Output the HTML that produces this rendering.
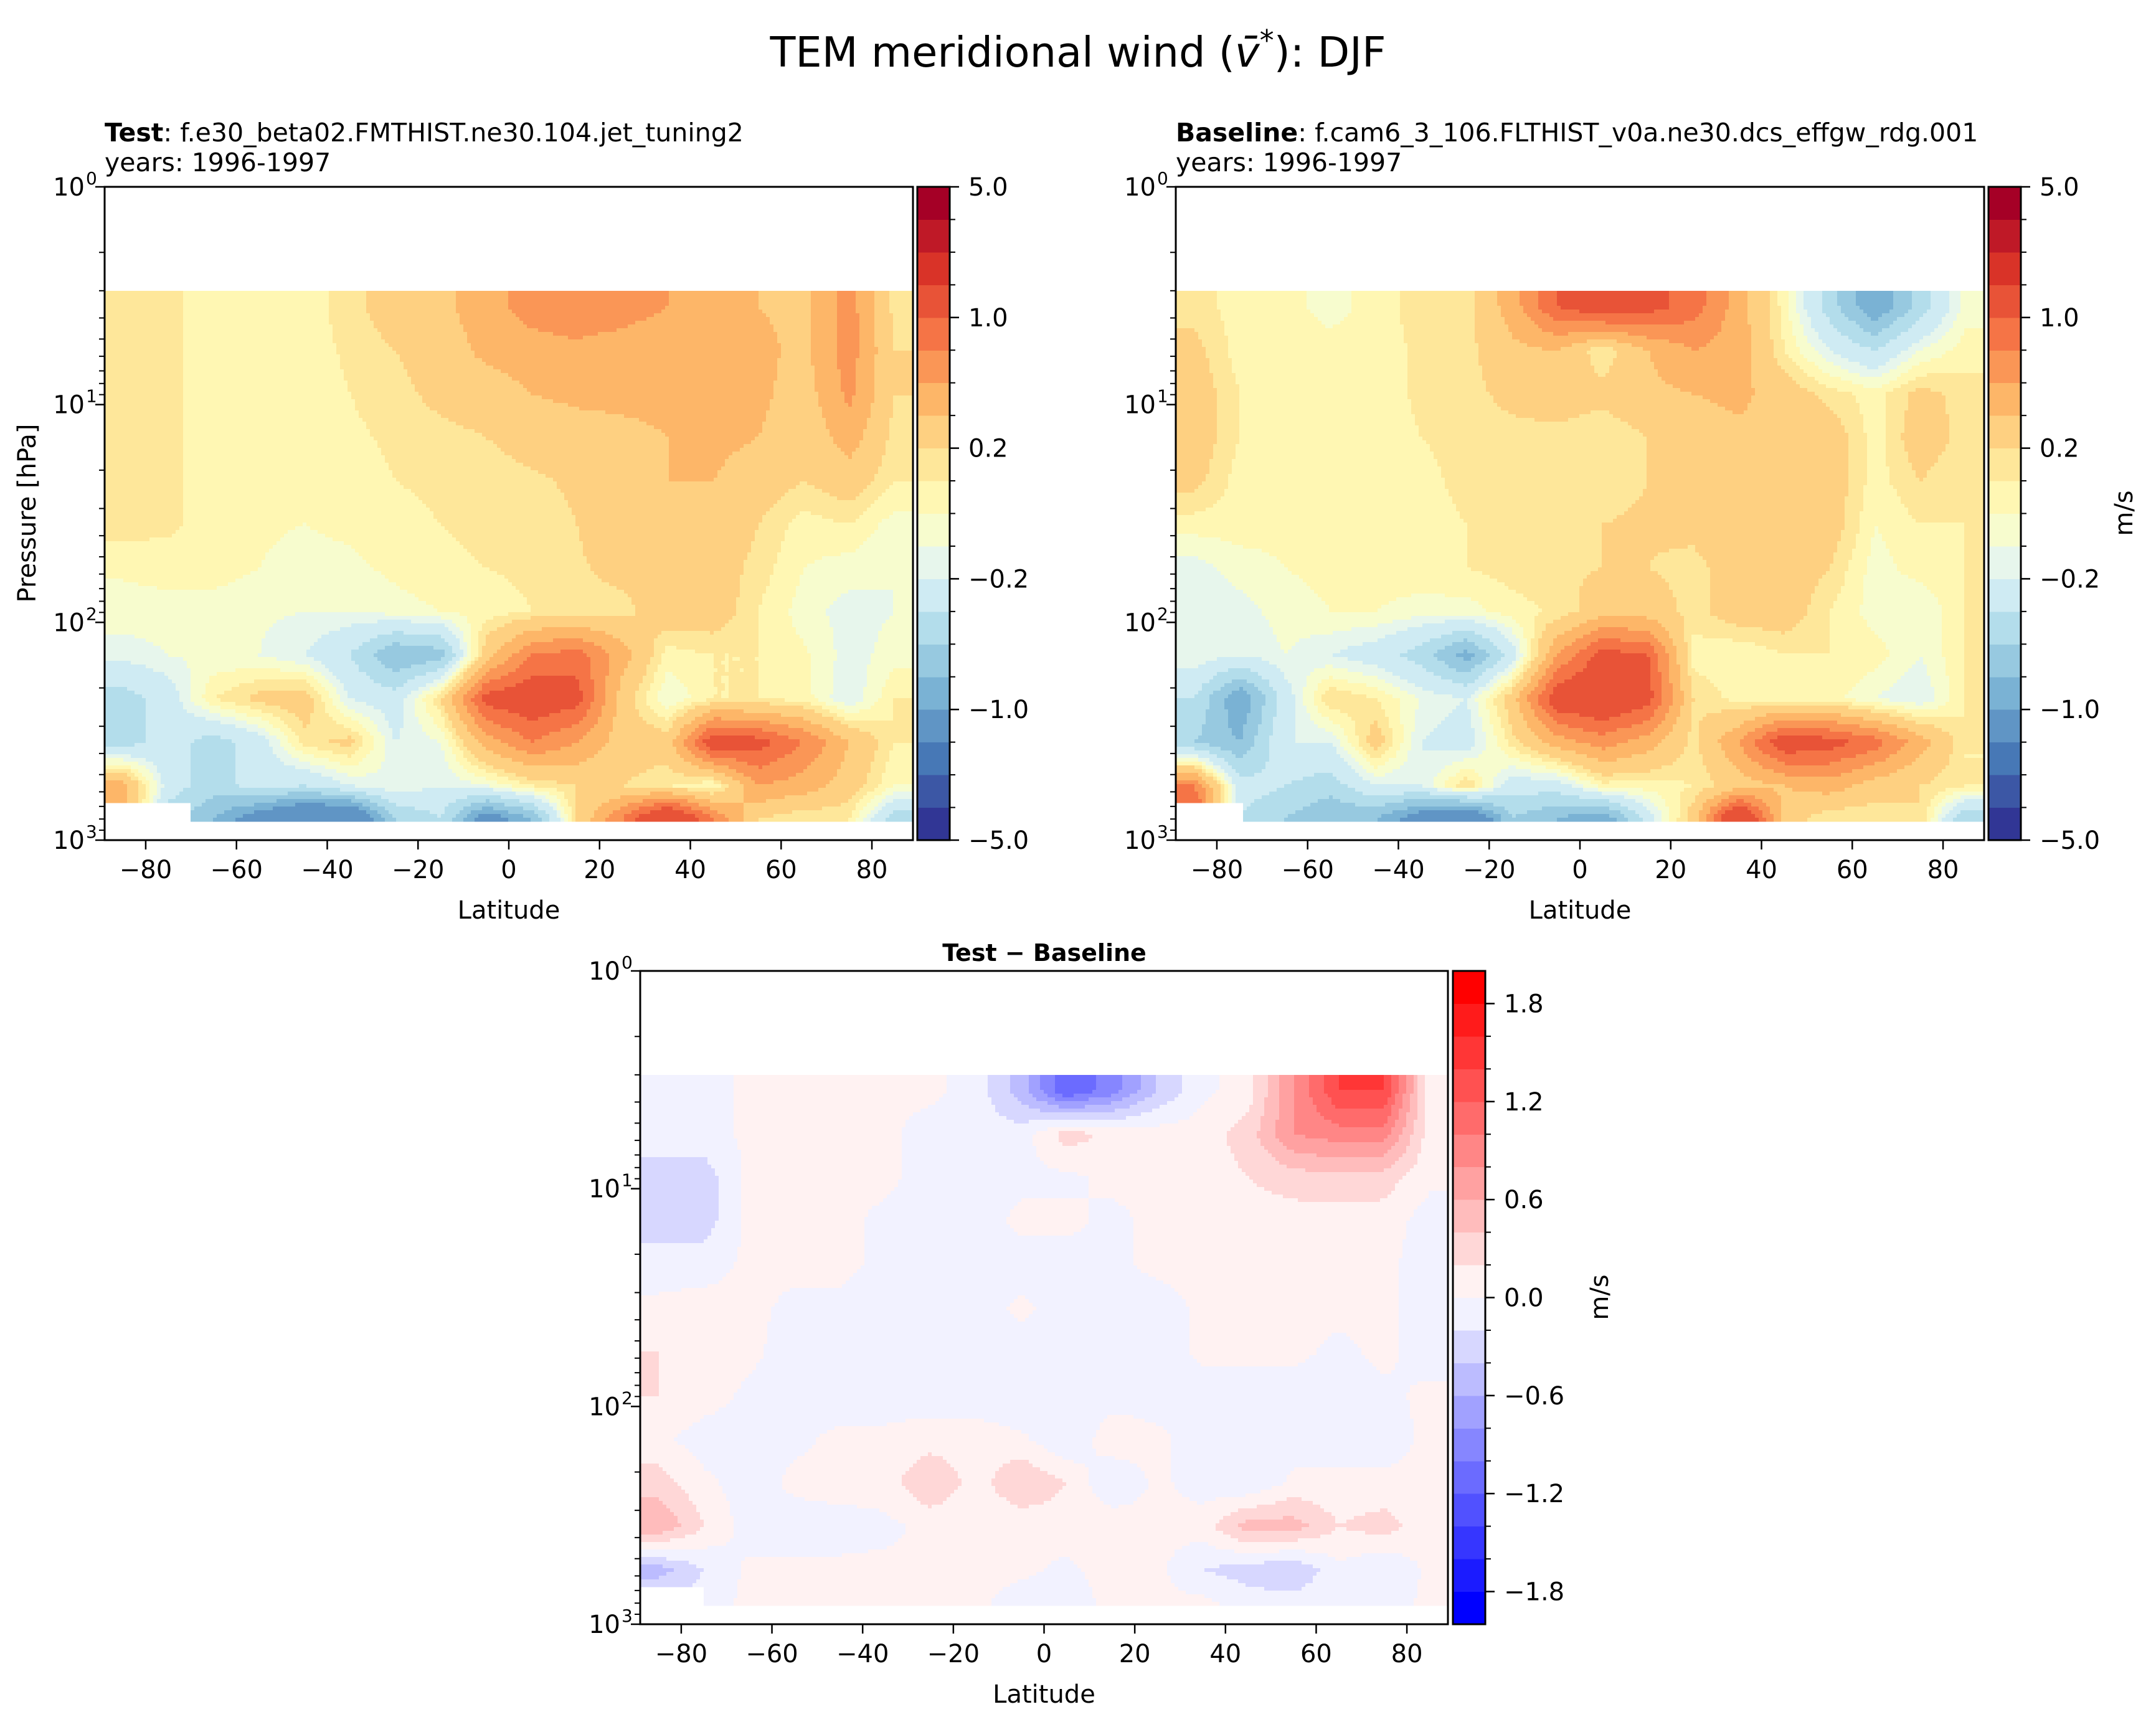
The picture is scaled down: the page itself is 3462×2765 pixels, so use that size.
<!DOCTYPE html>
<html><head><meta charset="utf-8"><title>TEM meridional wind DJF</title>
<style>
html,body{margin:0;padding:0;background:#fff;}
svg{display:block;font-family:"DejaVu Sans","Liberation Sans",sans-serif;}
</style></head>
<body>
<svg id="fig" xmlns="http://www.w3.org/2000/svg" width="3462" height="2765" viewBox="0 0 3462 2765">
<rect x="0" y="0" width="3462" height="2765" fill="#fff"/>
<text x="1731" y="107" font-size="67" text-anchor="middle">TEM meridional wind (<tspan font-style="italic">v̄</tspan><tspan font-size="46" dy="-26">*</tspan><tspan dy="26">): DJF</tspan></text>
<text x="168" y="227" font-size="41"><tspan font-weight="bold">Test</tspan>: f.e30_beta02.FMTHIST.ne30.104.jet_tuning2</text>
<text x="168" y="275" font-size="41">years: 1996-1997</text>
<text x="1888" y="227" font-size="41"><tspan font-weight="bold">Baseline</tspan>: f.cam6_3_106.FLTHIST_v0a.ne30.dcs_effgw_rdg.001</text>
<text x="1888" y="275" font-size="41">years: 1996-1997</text>
<text x="1677" y="1543" font-size="38" font-weight="bold" text-anchor="middle">Test − Baseline</text>
<text x="0" y="0" font-size="40" text-anchor="middle" transform="translate(57,824) rotate(-90)">Pressure [hPa]</text>
<text x="0" y="0" font-size="40" text-anchor="middle" transform="translate(3424,824) rotate(-90)">m/s</text>
<text x="0" y="0" font-size="40" text-anchor="middle" transform="translate(2582,2083) rotate(-90)">m/s</text>
<g id="layer"></g>
</svg>
<script>
// ---- data grids (rows = log10 pressure, columns = latitude) ----
const lats = [-85,-75,-65,-55,-45,-35,-25,-15,-5,5,15,25,35,45,55,65,75,85];
const logP = [0.55,0.75,0.95,1.15,1.35,1.55,1.75,1.95,2.15,2.35,2.55,2.75,2.9];
const testVals = [
[.15,.12,.05,.05,.05,.15,.3,.35,.5,.7,.75,.7,.6,.45,.4,.35,.7,.15],
[.15,.12,.05,.05,.05,.12,.2,.3,.45,.5,.55,.5,.45,.45,.45,.35,.7,.2],
[.15,.12,.05,.05,.05,.1,.15,.25,.3,.4,.45,.45,.45,.45,.45,.3,.65,.2],
[.15,.12,.05,.05,.05,.08,.12,.15,.2,.25,.3,.35,.4,.45,.4,.25,.5,.15],
[.15,.12,.05,.03,.03,.05,.1,.12,.15,.18,.22,.3,.4,.4,.3,.2,.3,.1],
[.15,.12,.05,.02,0,.03,.07,.1,.12,.15,.2,.3,.35,.35,.2,.05,.1,-.05],
[.02,.05,.05,0,-.05,-.03,.03,.08,.1,.12,.18,.25,.3,.3,.15,0,-.05,-.1],
[-.05,-.05,-.05,-.08,-.1,-.1,-.05,0,.05,.1,.15,.15,.3,.3,.1,-.05,-.15,-.1],
[-.15,-.1,-.08,-.1,-.2,-.4,-.8,-.7,.3,.8,.9,.5,.05,.1,.1,.02,-.15,-.05],
[-.5,-.3,.1,.25,.3,-.2,-.3,.2,1.1,1.2,1.1,.3,-.1,.1,.1,.05,-.2,.1],
[-.5,-.3,-.5,-.3,.15,.25,-.2,-.1,.5,.8,.6,.3,.3,1.2,1.1,.8,.4,.1],
[.5,-.3,-.5,-.3,-.4,-.2,-.1,-.2,-.1,.1,.2,.2,.1,0,.6,.5,.3,0],
[.5,-.5,-.8,-1.2,-1.5,-1.5,-.6,-.4,-1.2,-.8,.2,.8,1.5,.8,.2,.1,.1,-.5]
];
const baseVals = [
[.15,.05,.05,-.05,.05,.15,.15,.5,1.0,1.2,1.1,.9,.5,.05,-.5,-1.0,-.5,-.05],
[.25,.05,.05,.05,.05,.12,.15,.35,.4,.1,.4,.6,.5,.1,-.2,-.4,-.1,.05],
[.3,.1,.05,.05,.05,.12,.15,.25,.3,.25,.35,.4,.45,.3,.15,.05,.25,.15],
[.3,.1,.05,.05,.05,.1,.12,.15,.15,.1,.2,.3,.35,.35,.3,.05,.3,.15],
[.25,.05,.03,.03,.05,.08,.12,.15,.15,.15,.2,.25,.35,.35,.3,.05,.2,.1],
[.05,.05,.03,.03,.05,.07,.1,.15,.18,.2,.22,.25,.35,.35,.3,0,.1,.1],
[-.15,-.05,0,.03,.05,.07,.1,.15,.18,.2,.2,.15,.3,.3,.2,-.05,.05,.1],
[-.2,-.15,-.05,0,0,-.05,-.05,.05,.12,.3,.3,.15,.3,.3,.1,-.05,-.1,.1],
[-.1,-.2,-.1,-.2,-.3,-.5,-.9,-.3,.6,1.1,1.0,.05,0,.1,.1,.05,-.1,.1],
[-.4,-1.0,-.3,.2,.1,-.1,-.2,.3,1.2,1.3,1.1,.2,.05,.05,.05,-.1,-.2,.1],
[-.6,-.8,-.2,-.2,.3,-.2,-.3,.15,.5,.7,.5,.15,.6,1.2,1.1,.9,.5,.1],
[.8,-.3,-.4,-.5,-.2,-.2,.2,-.3,-.3,.05,.05,.1,.3,.4,.5,.3,.2,.1],
[1.2,-.4,-.6,-.8,-.8,-1.2,-1.5,-.6,-.8,-1.0,-.3,.3,1.5,.3,.1,.1,.2,-.6]
];
const diffVals = [
[-.1,-.1,.05,.05,.05,.05,.05,-.1,-.5,-1.2,-.9,-.4,-.05,.1,.8,1.4,1.4,.1],
[-.1,-.1,.05,.05,.05,.05,-.1,-.1,-.1,.3,.15,.1,.1,.3,.8,.9,.9,.1],
[-.3,-.3,.05,.05,.05,.05,-.1,-.1,-.05,-.05,.05,.05,.1,.2,.3,.35,.3,.05],
[-.3,-.3,.05,.05,.05,-.05,-.1,-.1,.05,.05,-.05,.05,.1,.1,.1,.1,.1,-.1],
[-.1,-.1,.05,.05,.05,-.05,-.1,-.1,-.1,-.1,-.05,.05,.05,.05,.05,.05,.05,-.1],
[.05,.1,.05,-.05,-.05,-.1,-.1,-.1,.05,-.1,-.1,-.1,.05,.05,.05,.05,.05,-.1],
[.2,.2,.05,-.1,-.1,-.1,-.1,-.1,-.1,-.1,-.1,-.1,.05,.05,.05,-.05,.05,-.1],
[.2,.1,-.05,-.1,-.1,-.1,-.1,-.1,-.2,-.2,-.1,-.1,-.1,-.1,-.1,-.1,-.05,.05],
[.05,-.1,-.1,-.05,.05,.05,.1,.1,.05,-.2,.15,.05,-.1,-.1,-.1,-.1,-.1,.05],
[.3,.05,-.1,.05,.1,.1,.4,.1,.4,.2,-.2,.05,-.1,-.2,.05,.05,.05,.05],
[.6,.2,-.1,-.1,-.1,-.05,.05,.05,.05,.1,.15,.05,.1,.5,.5,.2,.3,.05],
[-.5,-.2,.05,.05,.05,.05,.05,.05,.05,-.05,.1,.05,-.2,-.3,-.4,-.05,-.2,.05],
[-.1,-.1,.05,.05,.1,.05,.05,.05,-.1,-.1,.05,.05,.05,-.1,-.1,-.05,-.1,.05]
];
const fullLevels = [-5,-4,-3,-2,-1,-0.8,-0.6,-0.4,-0.2,-0.1,0,0.1,0.2,0.4,0.6,0.8,1,2,3,4,5];
const fullTickVals = [-5,-1,-0.2,0.2,1,5];
const fullTickLabels = ["−5.0","−1.0","−0.2","0.2","1.0","5.0"];
const diffLevels = [-2,-1.8,-1.6,-1.4,-1.2,-1,-0.8,-0.6,-0.4,-0.2,0,0.2,0.4,0.6,0.8,1,1.2,1.4,1.6,1.8,2];
const diffTickVals = [-1.8,-1.2,-0.6,0,0.6,1.2,1.8];
const diffTickLabels = ["−1.8","−1.2","−0.6","0.0","0.6","1.2","1.8"];
const latTicks = [-80,-60,-40,-20,0,20,40,60,80];
const latTickLabels = ["−80","−60","−40","−20","0","20","40","60","80"];
const decades = [0,1,2,3];

const NS="http://www.w3.org/2000/svg";
const layer=document.getElementById('layer');
function mk(tag,attrs,parent){const e=document.createElementNS(NS,tag);for(const k in attrs)e.setAttribute(k,attrs[k]);(parent||layer).appendChild(e);return e;}

const rdylbu=["#a50026","#d73027","#f46d43","#fdae61","#fee090","#ffffbf","#e0f3f8","#abd9e9","#74add1","#4575b4","#313695"].reverse();
function hex2rgb(h){return [parseInt(h.slice(1,3),16),parseInt(h.slice(3,5),16),parseInt(h.slice(5,7),16)];}
function rdylbuAt(t){const n=rdylbu.length-1;const f=t*n;const i=Math.min(n-1,Math.floor(f));const u=f-i;const a=hex2rgb(rdylbu[i]),b=hex2rgb(rdylbu[i+1]);return 'rgb('+a.map((c,k)=>Math.round(c+(b[k]-c)*u)).join(',')+')';}
function bwrAt(t){let r,g,b;if(t<0.5){r=g=Math.round(255*t*2);b=255;}else{r=255;g=b=Math.round(255*(1-t)*2);}return 'rgb('+r+','+g+','+b+')';}
function bandColors(levels,cm){const n=levels.length-1;const out=[];for(let i=0;i<n;i++)out.push(cm(i/(n-1)));return out;}
const fullColors=bandColors(fullLevels,rdylbuAt);
const diffColors=bandColors(diffLevels,bwrAt);

function bandOf(v,levels){const n=levels.length-1;for(let i=0;i<n;i++){if(v<levels[i+1])return i;}return n-1;}
function interp(vals,lat,lp){
  let ci=0;while(ci<lats.length-2&&lat>lats[ci+1])ci++;
  let ri=0;while(ri<logP.length-2&&lp>logP[ri+1])ri++;
  let u=(lat-lats[ci])/(lats[ci+1]-lats[ci]);u=Math.max(0,Math.min(1,u));
  let w=(lp-logP[ri])/(logP[ri+1]-logP[ri]);w=Math.max(0,Math.min(1,w));
  const a=vals[ri][ci],b=vals[ri][ci+1],c=vals[ri+1][ci],d=vals[ri+1][ci+1];
  return a*(1-u)*(1-w)+b*u*(1-w)+c*(1-u)*w+d*u*w;
}

function panel(P){
  const g=mk('g',{});
  
  
  const latMin=-89.05,latMax=89.05;
  const X=lat=>P.x+(lat-latMin)/(latMax-latMin)*P.w;
  const Y=lp=>P.y+lp/3*P.h;
  const LAT=x=>latMin+(x-P.x)/P.w*(latMax-latMin);
  const LP=y=>(y-P.y)/P.h*3;
  const fg=mk('g',{'shape-rendering':'crispEdges'},g);
  
  
  const step=6;
  const yTop=Math.round(Y(P.topLP)), yBot=Math.round(Y(P.botLP));
  const xEnd=P.x+P.w;
  for(let y=yTop;y<yBot;y+=step){
    const h=Math.min(step,yBot-y)+0.5;
    const lp=LP(y+step/2);
    const bands=[];const xs=[];
    for(let x=P.x;x<xEnd;x+=step){
      const lat=LAT(Math.min(x+step/2,xEnd));
      const masked=(lat<P.cornerLat&&lp>P.cornerLP);
      bands.push(masked?-1:bandOf(interp(P.vals,lat,lp),P.levels));
      xs.push(x);
    }
    xs.push(xEnd);
    let s=0;
    for(let i=1;i<=bands.length;i++){
      if(i===bands.length||bands[i]!==bands[s]){
        if(bands[s]>=0){
          const r=mk('rect',{x:xs[s],y:y,width:xs[i]-xs[s]+0.5,height:h,fill:P.colors[bands[s]]},fg);
          
          
        }
        s=i;
      }
    }
  }
  const fr=mk('rect',{x:P.x,y:P.y,width:P.w,height:P.h,fill:'none',stroke:'#000','stroke-width':3},g);
  
  
  latTicks.forEach((t,i)=>{
    const x=X(t);
    mk('line',{x1:x,y1:P.y+P.h,x2:x,y2:P.y+P.h+15,stroke:'#000','stroke-width':2.5},g);
    const tx=mk('text',{x:x,y:P.y+P.h+61,'font-size':40,'text-anchor':'middle'},g);
    
    
    tx.textContent=latTickLabels[i];
  });
  const xl=mk('text',{x:P.x+P.w/2,y:P.y+P.h+126,'font-size':40,'text-anchor':'middle'},g);
  
  
  xl.textContent='Latitude';
  decades.forEach(d=>{
    const y=Y(d);
    mk('line',{x1:P.x-15,y1:y,x2:P.x,y2:y,stroke:'#000','stroke-width':2.5},g);
    const tx=mk('text',{x:P.x-32,y:y+14,'font-size':40,'text-anchor':'end'},g);
    
    
    tx.textContent='10';
    const sp=mk('text',{x:P.x-30,y:y-4,'font-size':28,'text-anchor':'start'},g);
    
    
    sp.textContent=String(d);
    if(d<3){for(let m=2;m<=9;m++){const ym=Y(d+Math.log10(m));mk('line',{x1:P.x-9,y1:ym,x2:P.x,y2:ym,stroke:'#000','stroke-width':2},g);}}
  });
  const cb=mk('g',{'shape-rendering':'crispEdges'},g);
  
  
  const n=P.levels.length-1;
  const CY=i=>P.y+P.h-(i/n)*P.h;
  for(let i=0;i<n;i++){
    const r=mk('rect',{x:P.cbx,y:CY(i+1),width:P.cbw,height:CY(i)-CY(i+1)+0.5,fill:P.colors[i]},cb);
    
    
  }
  mk('rect',{x:P.cbx,y:P.y,width:P.cbw,height:P.h,fill:'none',stroke:'#000','stroke-width':3},g);
  for(let i=1;i<n;i++){mk('line',{x1:P.cbx+P.cbw,y1:CY(i),x2:P.cbx+P.cbw+9,y2:CY(i),stroke:'#000','stroke-width':2},g);}
  P.tickVals.forEach((tv,k)=>{
    const i=P.levels.findIndex(l=>Math.abs(l-tv)<1e-9);
    const y=CY(i);
    mk('line',{x1:P.cbx+P.cbw,y1:y,x2:P.cbx+P.cbw+15,y2:y,stroke:'#000','stroke-width':2.5},g);
    const tx=mk('text',{x:P.cbx+P.cbw+30,y:y+14,'font-size':40},g);
    
    
    tx.textContent=P.tickLabels[k];
  });
}

panel({name:'test-panel',x:168,y:300,w:1298,h:1049,vals:testVals,levels:fullLevels,colors:fullColors,
  topLP:0.478,botLP:2.914,cornerLat:-70,cornerLP:2.83,cbx:1473,cbw:52,tickVals:fullTickVals,tickLabels:fullTickLabels});
panel({name:'baseline-panel',x:1888,y:300,w:1298,h:1049,vals:baseVals,levels:fullLevels,colors:fullColors,
  topLP:0.478,botLP:2.914,cornerLat:-74,cornerLP:2.83,cbx:3193,cbw:52,tickVals:fullTickVals,tickLabels:fullTickLabels});
panel({name:'difference-panel',x:1028,y:1559,w:1297,h:1049,vals:diffVals,levels:diffLevels,colors:diffColors,
  topLP:0.478,botLP:2.914,cornerLat:-75,cornerLP:2.83,cbx:2333,cbw:52,tickVals:diffTickVals,tickLabels:diffTickLabels});
</script>
</body></html>
